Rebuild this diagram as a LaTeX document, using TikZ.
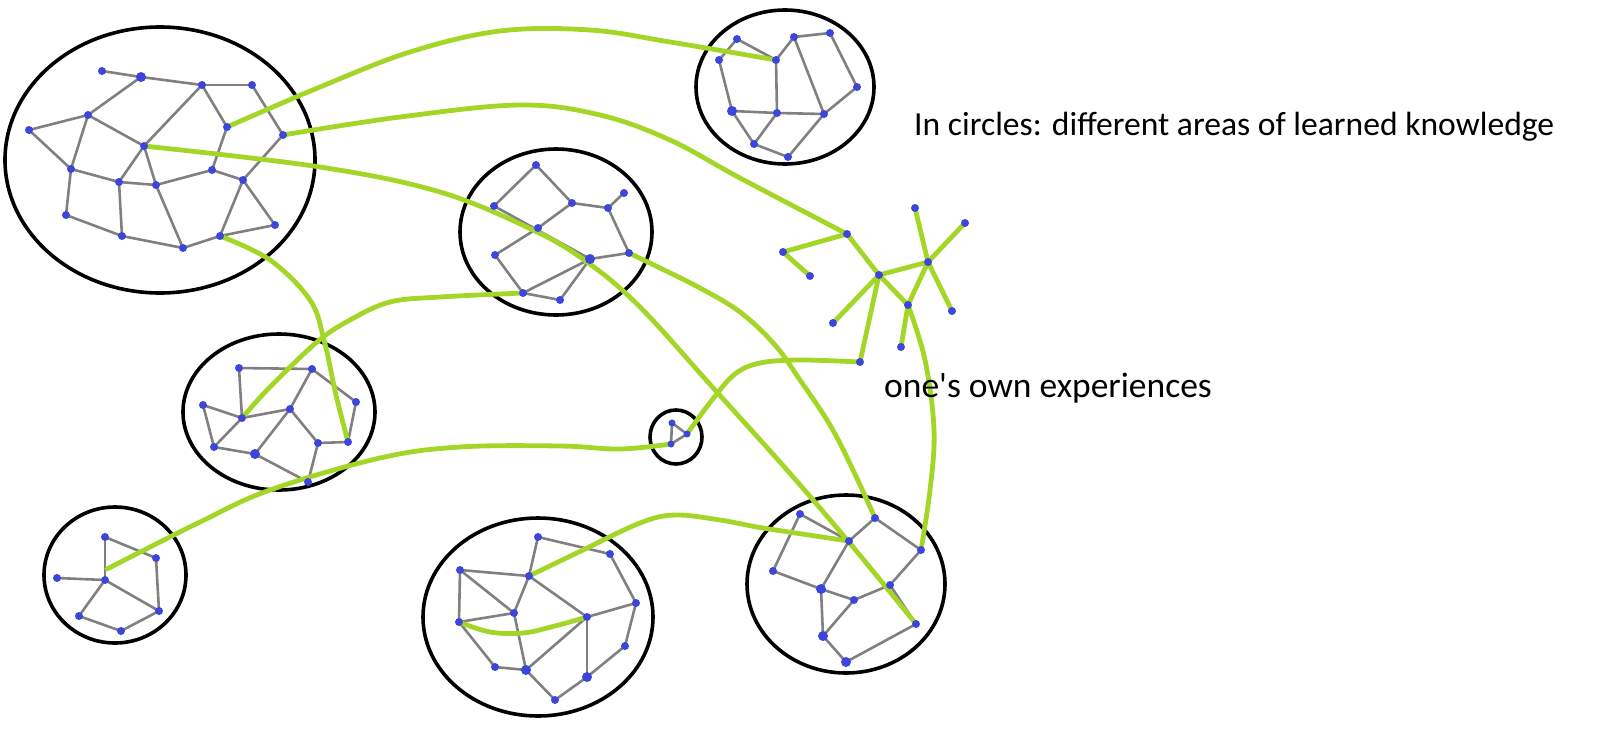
\documentclass[tikz,border=0pt]{standalone}
\usepackage{fontspec}
\setmainfont{Carlito}
\pgfdeclarelayer{bg}
\pgfdeclarelayer{mid}
\pgfsetlayers{bg,mid,main}
\definecolor{dotblue}{RGB}{60,70,220}
\definecolor{edgegray}{RGB}{128,128,128}
\definecolor{lgreen}{RGB}{164,214,40}
\begin{document}
\begin{tikzpicture}[x=1pt,y=-1pt,
  dot/.style={circle,fill=dotblue,inner sep=0pt,minimum size=8pt},
  bigdot/.style={dot,minimum size=10pt},
  edge/.style={draw=edgegray,line width=2.6pt},
  gline/.style={draw=lgreen,line width=4.8pt,line cap=round,line join=round},
  rim/.style={draw=black,line width=3.6pt},
  lbl/.style={inner sep=0pt,anchor=base west}]
\useasboundingbox (0,0) rectangle (1600,728);
% cluster a
\node[dot] (a1) at (102,71) {};
\node[bigdot] (a2) at (141,77) {};
\node[dot] (a3) at (202,85) {};
\node[dot] (a4) at (252,85) {};
\node[dot] (a5) at (88,115) {};
\node[dot] (a6) at (29,130) {};
\node[dot] (a7) at (227,127) {};
\node[dot] (a8) at (283,135) {};
\node[dot] (a9) at (144,146) {};
\node[dot] (a10) at (71,169) {};
\node[dot] (a11) at (212,170) {};
\node[dot] (a12) at (243,180) {};
\node[dot] (a13) at (119,182) {};
\node[dot] (a14) at (156,185) {};
\node[dot] (a15) at (66,215) {};
\node[dot] (a16) at (275,225) {};
\node[dot] (a17) at (122,236) {};
\node[dot] (a18) at (220,236) {};
\node[dot] (a19) at (183,248) {};
% cluster b
\node[dot] (b1) at (536,165) {};
\node[dot] (b2) at (494,206) {};
\node[dot] (b3) at (572,203) {};
\node[dot] (b4) at (624,193) {};
\node[dot] (b5) at (608,208) {};
\node[dot] (b6) at (538,228) {};
\node[dot] (b7) at (495,255) {};
\node[bigdot] (b8) at (590,259) {};
\node[dot] (b9) at (629,253) {};
\node[dot] (b10) at (523,293) {};
\node[dot] (b11) at (560,300) {};
% cluster c
\node[dot] (c1) at (737,39) {};
\node[dot] (c2) at (794,37) {};
\node[dot] (c3) at (830,33) {};
\node[dot] (c4) at (719,60) {};
\node[dot] (c5) at (776,60) {};
\node[dot] (c6) at (857,87) {};
\node[bigdot] (c7) at (732,111) {};
\node[dot] (c8) at (777,113) {};
\node[dot] (c9) at (824,114) {};
\node[dot] (c10) at (754,144) {};
\node[dot] (c11) at (788,157) {};
% cluster d
\node[dot] (d1) at (239,368) {};
\node[dot] (d2) at (312,369) {};
\node[dot] (d3) at (203,405) {};
\node[dot] (d4) at (356,402) {};
\node[dot] (d5) at (242,418) {};
\node[dot] (d6) at (290,409) {};
\node[dot] (d7) at (214,447) {};
\node[bigdot] (d8) at (255,454) {};
\node[dot] (d9) at (318,443) {};
\node[dot] (d10) at (348,442) {};
\node[dot] (d11) at (308,482) {};
% cluster e
\node[dot] (e1) at (105,537) {};
\node[dot] (e2) at (156,558) {};
\node[dot] (e3) at (57,578) {};
\node[dot] (e4) at (105,580) {};
\node[dot] (e5) at (159,611) {};
\node[dot] (e6) at (79,616) {};
\node[dot] (e7) at (121,631) {};
\coordinate (e14) at (107,569);
% cluster f
\node[dot] (f1) at (538,537) {};
\node[dot] (f2) at (610,554) {};
\node[dot] (f3) at (460,570) {};
\node[dot] (f4) at (529,576) {};
\node[dot] (f5) at (636,603) {};
\node[dot] (f6) at (514,613) {};
\node[dot] (f7) at (459,622) {};
\node[dot] (f8) at (587,617) {};
\node[dot] (f9) at (625,646) {};
\node[dot] (f10) at (495,667) {};
\node[bigdot] (f11) at (526,670) {};
\node[bigdot] (f12) at (587,677) {};
\node[dot] (f13) at (555,700) {};
% cluster g
\node[dot] (g1) at (800,514) {};
\node[dot] (g2) at (875,518) {};
\node[dot] (g3) at (849,541) {};
\node[dot] (g4) at (921,550) {};
\node[dot] (g5) at (773,571) {};
\node[bigdot] (g6) at (821,589) {};
\node[dot] (g7) at (890,585) {};
\node[dot] (g8) at (854,600) {};
\node[dot] (g9) at (916,624) {};
\node[bigdot] (g10) at (823,636) {};
\node[bigdot] (g11) at (846,662) {};
% experiences h
\node[dot] (h1) at (915,208) {};
\node[dot] (h2) at (847,234) {};
\node[dot] (h3) at (783,252) {};
\node[dot] (h4) at (810,276) {};
\node[dot] (h5) at (879,275) {};
\node[dot] (h6) at (928,262) {};
\node[dot] (h7) at (908,305) {};
\node[dot] (h8) at (952,311) {};
\node[dot] (h9) at (833,323) {};
\node[dot] (h10) at (901,347) {};
\node[dot] (h11) at (860,362) {};
\node[dot] (h12) at (965,223) {};
% small circle i
\node[dot,minimum size=7pt] (i1) at (672,423) {};
\node[dot,minimum size=7pt] (i2) at (687,434) {};
\node[dot,minimum size=7pt] (i3) at (671,444) {};
% labels
\node[lbl,font=\fontsize{33.6}{40}\selectfont] (t1) at (914,135) {In circles: different areas of learned knowledge};
\node[lbl,font=\fontsize{35.5}{42}\selectfont] (t2) at (884,397) {one\textquotesingle s own experiences};
\begin{pgfonlayer}{bg}
\draw[rim] (160,160) ellipse [x radius=155pt, y radius=133pt];
\draw[rim] (556,232) ellipse [x radius=96pt, y radius=83pt];
\draw[rim] (785,87) ellipse [x radius=89pt, y radius=77pt];
\draw[rim] (279,412) ellipse [x radius=96pt, y radius=78pt];
\draw[rim] (115,575) ellipse [x radius=71pt, y radius=68pt];
\draw[rim] (538,617) ellipse [x radius=115pt, y radius=99pt];
\draw[rim] (846,584) ellipse [x radius=99pt, y radius=89pt];
\draw[rim] (676,437) ellipse [x radius=26pt, y radius=27pt];
\foreach \u/\v in {a1/a2,a2/a3,a3/a4,a2/a5,a5/a6,a5/a9,a5/a10,a6/a10,a3/a9,a3/a7,a4/a8,a7/a11,a8/a12,
  a9/a13,a9/a14,a10/a13,a13/a14,a14/a11,a11/a12,a12/a18,a12/a16,a16/a18,a10/a15,a15/a17,a13/a17,a17/a19,a14/a19,a19/a18,
  b1/b2,b1/b3,b3/b5,b5/b4,b3/b6,b2/b8,b6/b7,b5/b9,b9/b8,b7/b10,b10/b8,b8/b11,b10/b11,
  c1/c4,c1/c5,c5/c2,c2/c3,c3/c6,c4/c7,c5/c8,c2/c9,c7/c8,c8/c9,c6/c9,c7/c10,c8/c10,c10/c11,c9/c11,
  d1/d2,d1/d5,d3/d5,d3/d7,d5/d6,d5/d7,d2/d6,d2/d4,d4/d10,d6/d8,d6/d9,d7/d8,d8/d11,d9/d10,d9/d11,
  e1/e4,e1/e2,e2/e5,e3/e4,e4/e5,e4/e6,e6/e7,e7/e5,
  f1/f2,f1/f4,f3/f4,f3/f6,f3/f7,f4/f6,f4/f8,f6/f7,f6/f11,f7/f10,f10/f11,f8/f11,f8/f12,f8/f5,f2/f5,f5/f9,f9/f12,f11/f13,f12/f13,
  g1/g3,g1/g5,g2/g3,g2/g4,g3/g6,g5/g6,g6/g8,g6/g10,g8/g7,g7/g4,g8/g10,g10/g11,g11/g9,g7/g9,
  i1/i2,i1/i3,i3/i2}
  \draw[edge] (\u.center) -- (\v.center);
\end{pgfonlayer}
\begin{pgfonlayer}{mid}
% experience tree
\foreach \u/\v in {h1/h6,h6/h12,h6/h5,h6/h8,h6/h7,h5/h2,h2/h3,h3/h4,h5/h9,h5/h7,h5/h11,h7/h10}
  \draw[gline] (\u.center) -- (\v.center);
% links
\draw[gline] plot[smooth,tension=0.6] coordinates {(a7.center) (320,87) (410,52) (500,31) (590,30) (670,42) (c5.center)};
\draw[gline] plot[smooth,tension=0.6] coordinates {(a8.center) (400,117) (520,105) (600,115) (670,140) (740,178) (h2.center)};
\draw[gline] plot[smooth,tension=0.6] coordinates {(a9.center) (320,167) (440,192) (533,230) (587,262) (640,307) (715,390) (787,470) (853,547) (g9.center)};
\draw[gline] plot[smooth,tension=0.6] coordinates {(a18.center) (270,260) (310,300) (324,340) (336,395) (d10.center)};
\draw[gline] plot[smooth,tension=0.6] coordinates {(b10.center) (440,297) (390,302) (350,320) (317,342) (270,387) (d5.center)};
\draw[gline] plot[smooth,tension=0.6] coordinates {(b9.center) (660,268) (700,288) (740,312) (775,345) (800,380) (830,425) (853,470) (g2.center)};
\draw[gline] plot[smooth,tension=0.6] coordinates {(h11.center) (800,360) (760,363) (735,374) (712,400) (i2.center)};
\draw[gline] plot[smooth,tension=0.6] coordinates {(e14) (200,522) (270,490) (380,458) (460,447) (560,446) (620,449) (i3.center)};
\draw[gline] plot[smooth,tension=0.6] coordinates {(f4.center) (583,550) (640,523) (675,515) (720,520) (763,528) (g3.center)};
\draw[gline] plot[smooth,tension=0.6] coordinates {(f7.center) (490,632) (523,633) (555,626) (f8.center)};
\draw[gline] plot[smooth,tension=0.6] coordinates {(h7.center) (925,360) (934,430) (930,490) (g4.center)};
\end{pgfonlayer}
\end{tikzpicture}
\end{document}
